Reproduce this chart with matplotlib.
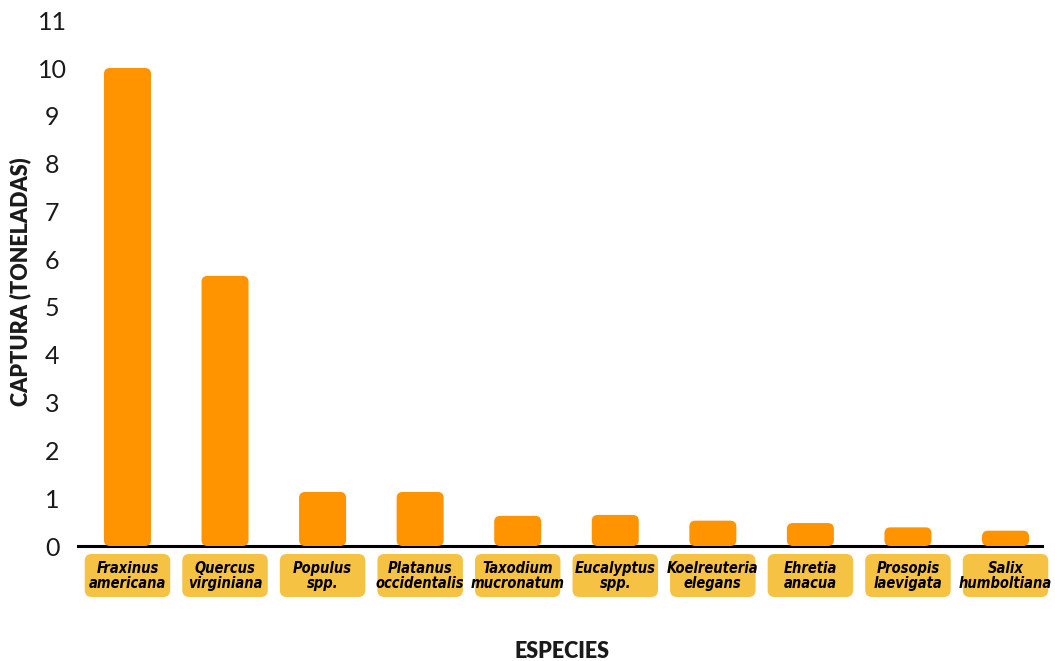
import matplotlib
matplotlib.use("Agg")
import matplotlib.pyplot as plt
from matplotlib.patches import FancyBboxPatch

# ---- data ----
species = ["Fraxinus\namericana", "Quercus\nvirginiana", "Populus\nspp.",
           "Platanus\noccidentalis", "Taxodium\nmucronatum", "Eucalyptus\nspp.",
           "Koelreuteria\nelegans", "Ehretia\nanacua", "Prosopis\nlaevigata",
           "Salix\nhumboltiana"]
captura = [10.0, 5.65, 1.13, 1.13, 0.63, 0.65, 0.53, 0.48, 0.39, 0.32]
yticks = list(range(0, 12))

BAR_COLOR = "#FF9300"
TILE_COLOR = "#F5C243"
TEXT_COLOR = "#1a1a1a"

W, H, DPI = 1055, 661, 100
fig = plt.figure(figsize=(W / DPI, H / DPI), dpi=DPI)
fig.patch.set_facecolor("white")

# axes in pixel geometry
ax_left, ax_right = 78, 1042
y0_px, ytop = 546, 11.2
px_per_unit = 47.8
ax_h = ytop * px_per_unit
ax = fig.add_axes([ax_left / W, 1 - y0_px / H, (ax_right - ax_left) / W, ax_h / H])

x = list(range(len(species)))
ax.set_xlim(-0.507, 9.374)
ax.set_ylim(0, ytop)

xppu = (ax_right - ax_left) / (9.374 + 0.507)
yppu = px_per_unit
aspect = xppu / yppu

bar_w = 47 / xppu
bars = ax.bar(x, captura, width=bar_w, color=BAR_COLOR)
r_px = 6
for b in bars:
    bx, by = b.get_x(), b.get_y()
    bw, bh = b.get_width(), b.get_height()
    b.remove()
    rr = min(r_px / xppu, bh / aspect / 2)
    p = FancyBboxPatch((bx, by), bw, bh,
                       boxstyle=f"round,pad=0,rounding_size={rr}",
                       mutation_aspect=aspect,
                       fc=BAR_COLOR, ec="none", zorder=3)
    ax.add_patch(p)

# category tiles below the axis
tile_w = 85.5 / xppu
tile_top = -8 / yppu
tile_bot = -51 / yppu
for xi, name in zip(x, species):
    p = FancyBboxPatch((xi - tile_w / 2, tile_bot), tile_w, tile_top - tile_bot,
                       boxstyle=f"round,pad=0,rounding_size={7 / xppu}",
                       mutation_aspect=aspect,
                       fc=TILE_COLOR, ec="none", clip_on=False, zorder=3)
    ax.add_patch(p)
    ax.text(xi, (tile_top + tile_bot) / 2 - 0.01, name, ha="center", va="center",
            fontsize=10.5, fontweight="bold", fontstyle="italic",
            fontstretch="condensed",
            family=["DejaVu Sans"], linespacing=0.95,
            color="black", clip_on=False, zorder=4)

# axes styling
for s in ["top", "right", "left"]:
    ax.spines[s].set_visible(False)
ax.spines["bottom"].set_linewidth(2.2)
ax.spines["bottom"].set_color("black")
ax.spines["bottom"].set_zorder(2)
ax.set_xticks([])
ax.set_yticks(yticks)
ax.set_yticklabels([str(t) for t in yticks])
ax.tick_params(axis="y", length=0, pad=18.5, labelsize=18, labelcolor=TEXT_COLOR)
for lab in ax.get_yticklabels():
    lab.set_horizontalalignment("center")
    lab.set_family(["Lato", "DejaVu Sans"])
    lab.set_fontweight("normal")

fig.text(20.5 / W, 1 - 282 / H, "CAPTURA (TONELADAS)", rotation=90,
         ha="center", va="center", fontsize=15.5, fontweight="heavy",
         family=["Lato", "DejaVu Sans"], color=TEXT_COLOR)
fig.text(562 / W, 1 - 651 / H, "ESPECIES", ha="center", va="center",
         fontsize=15.5, fontweight="heavy", family=["Lato", "DejaVu Sans"],
         color=TEXT_COLOR)

fig.savefig("out.png", dpi=DPI, facecolor="white")
